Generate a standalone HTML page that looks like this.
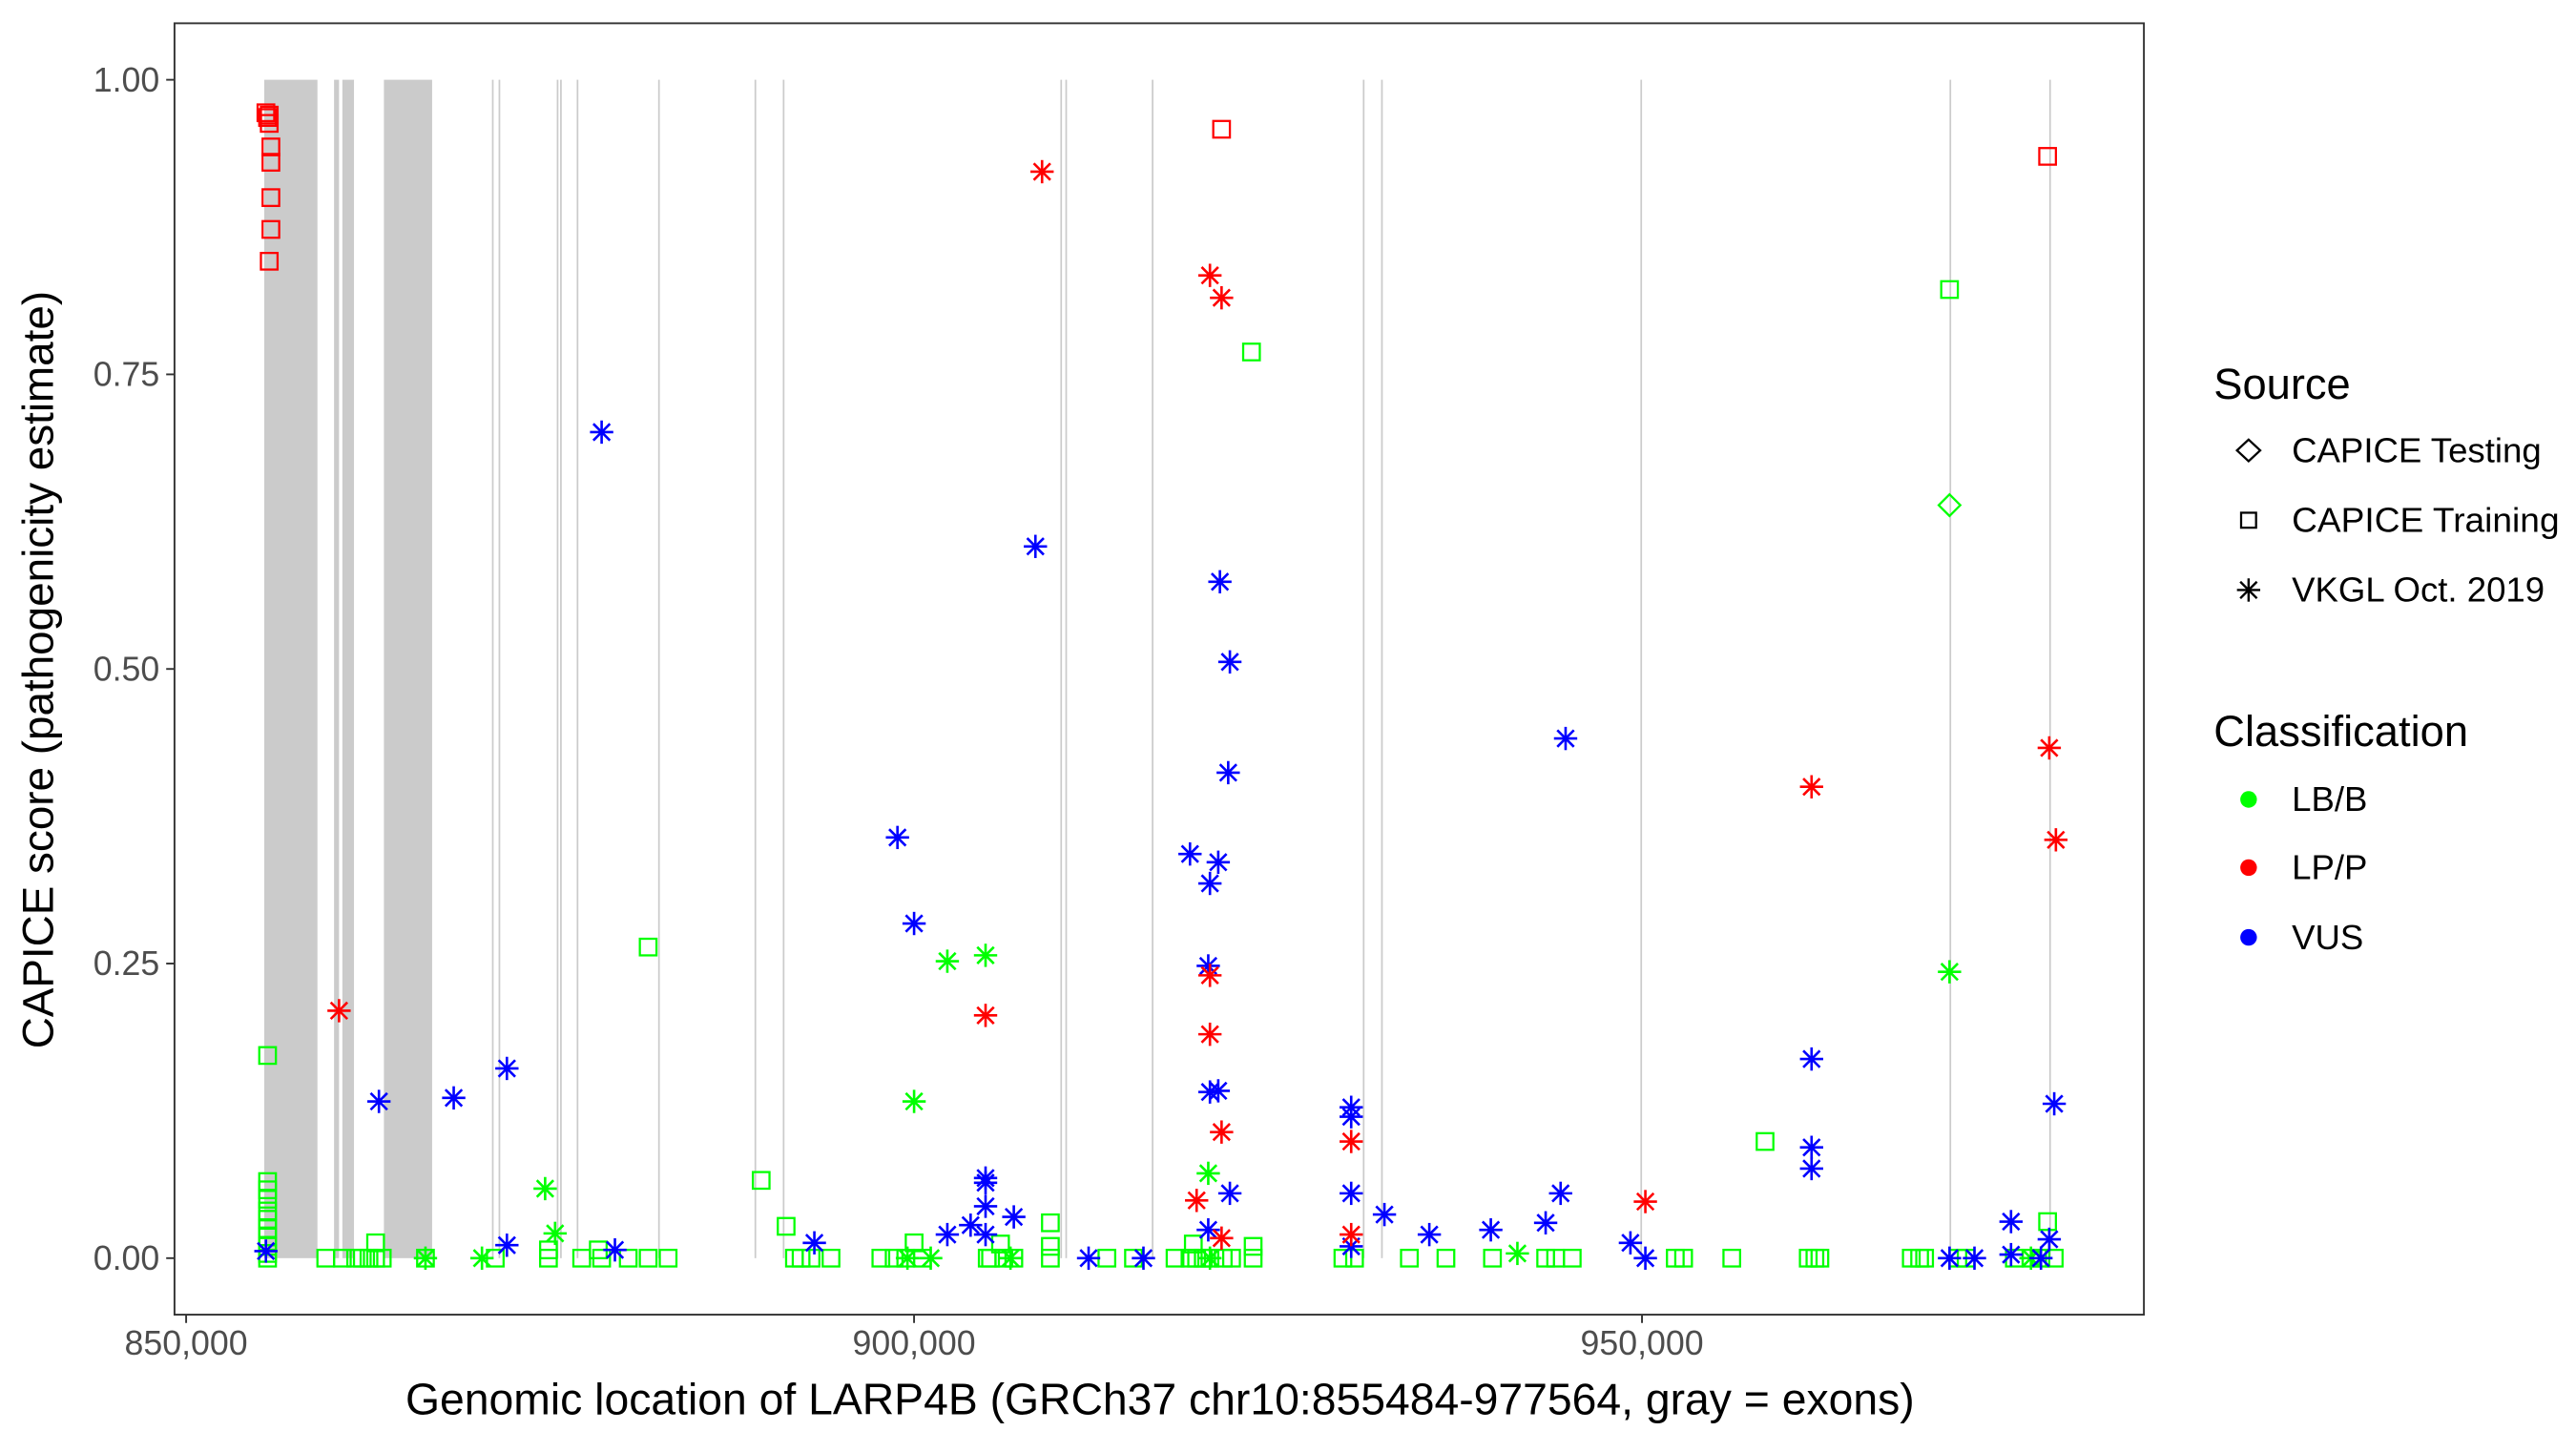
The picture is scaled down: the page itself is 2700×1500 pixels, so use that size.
<!DOCTYPE html>
<html><head><meta charset="utf-8"><style>html,body{margin:0;padding:0;background:#fff}svg{display:block}</style></head>
<body>
<svg id="chart" width="2700" height="1500" viewBox="0 0 1550 861" preserveAspectRatio="none" xmlns="http://www.w3.org/2000/svg" font-family="Liberation Sans, Arial, sans-serif">
<rect x="0" y="0" width="1550" height="861" fill="#fff"/>
<g id="exons"></g>
<g id="points"></g>
<rect x="105" y="14" width="1185" height="777" fill="none" stroke="#333" stroke-width="1.1"/>
<g id="axes"></g>
<text x="698" y="851" font-size="26.5" text-anchor="middle" fill="#000" textLength="908" lengthAdjust="spacingAndGlyphs">Genomic location of LARP4B (GRCh37 chr10:855484-977564, gray = exons)</text>
<text transform="translate(32,403) rotate(-90)" font-size="26" text-anchor="middle" fill="#000" textLength="456" lengthAdjust="spacingAndGlyphs">CAPICE score (pathogenicity estimate)</text>
<g>
<text x="1332" y="240" font-size="26" fill="#000">Source</text>
<polygon points="1346,271 1353,264.5 1360,271 1353,277.5" fill="none" stroke="#000" stroke-width="1.3"/>
<text x="1379" y="278" font-size="21">CAPICE Testing</text>
<rect x="1348.5" y="308.5" width="9" height="9" fill="none" stroke="#000" stroke-width="1.3"/>
<text x="1379" y="320" font-size="21" textLength="161" lengthAdjust="spacingAndGlyphs">CAPICE Training</text>
<g stroke="#000" stroke-width="1.4"><line x1="1346" y1="355" x2="1360" y2="355"/><line x1="1353" y1="348" x2="1353" y2="362"/><line x1="1348" y1="350" x2="1358" y2="360"/><line x1="1348" y1="360" x2="1358" y2="350"/></g>
<text x="1379" y="362" font-size="21">VKGL Oct. 2019</text>
<text x="1332" y="449" font-size="26" fill="#000">Classification</text>
<circle cx="1353" cy="481" r="5" fill="#00ff00"/>
<text x="1379" y="488" font-size="21">LB/B</text>
<circle cx="1353" cy="522" r="5" fill="#ff0000"/>
<text x="1379" y="529" font-size="21">LP/P</text>
<circle cx="1353" cy="564" r="5" fill="#0000ff"/>
<text x="1379" y="571" font-size="21">VUS</text>
</g>
</svg>
<script>
// exon regions (genomic start, end)
const exonStart=[855365,860160,860731,863585,871005,871461,875457,875686,876827,882421,889042,890983,910048,910391,916327,930825,932080,949890,971123,977973];
const exonEnd  =[859018,860502,861530,866896,871050,871506,875502,875731,876872,882466,889087,891028,910093,910436,916372,930870,932125,949935,971168,978018];
const xTicks=[850000,900000,950000];
const xTickLabels=["850,000","900,000","950,000"];
const yTicks=[0,0.25,0.5,0.75,1];
const yTickLabels=["0.00","0.25","0.50","0.75","1.00"];
// points: genomic position, score, class, source
const sqRedX=[855480,855594,855708,855708,855822,855822,855822,855822,855708,921122,977860];
const sqRedY=[0.972,0.968,0.97,0.963,0.943,0.93,0.90,0.873,0.846,0.958,0.935];
const stRedX=[860503,908792,920323,921122,904911,920323,920323,921122,919409,921122,930026,930026,950232,961648,977974,978430];
const stRedY=[0.21,0.922,0.834,0.815,0.206,0.24,0.19,0.107,0.049,0.017,0.099,0.02,0.048,0.4,0.433,0.355];
const sqGrnX=[855594,855594,855594,855594,855594,855594,855594,855594,855594,855594,881736,923177,889499,891212,958452,971124,977860,900002,909363,909363,905938,863014,874887,878312,919181,923291,
855594,859589,860731,861644,862101,862558,863014,863471,866439,871234,874887,877170,878540,880367,881736,883106,891783,892239,892924,894294,897719,898632,899431,900573,905025,905254,906167,906852,909363,913245,915071,917925,918953,919409,919866,920323,921236,921807,923291,929455,930254,934022,936533,939730,943383,944068,945209,952287,952858,956168,961420,961877,962219,968498,969069,969412,971695,972266,975577,976718,977403,978316];
const sqGrnY=[0.172,0.065,0.058,0.05,0.04,0.033,0.025,0.018,0.01,0.004,0.264,0.769,0.066,0.027,0.099,0.822,0.031,0.013,0.03,0.01,0.012,0.013,0.007,0.007,0.012,0.01,
0,0,0,0,0,0,0,0,0,0,0,0,0,0,0,0,0,0,0,0,0,0,0,0,0,0,0,0,0,0,0,0,0,0,0,0,0,0,0,0,0,0,0,0,0,0,0,0,0,0,0,0,0,0,0,0,0,0,0,0,0,0];
const stGrnX=[902285,904911,900002,874659,875343,920208,971124,866439,870320,899545,901144,906623,920323,941442,976718];
const stGrnY=[0.252,0.257,0.133,0.059,0.021,0.072,0.243,0,0,0,0,0,0,0.004,0];
const diaGrnX=[971124];
const diaGrnY=[0.639];
const stBluX=[878540,908336,921008,921693,921579,944753,898860,900002,918953,920894,920323,920208,863243,868380,872033,920323,920894,930026,930026,961648,978316,904911,904911,904911,904911,902285,903884,906852,921693,930026,932309,935392,939616,943383,944410,961648,961648,975348,977974,872033,879453,893152,855480,911989,915756,920208,930026,949205,950232,971124,972837,975348,977403];
const stBluY=[0.701,0.604,0.574,0.506,0.412,0.441,0.357,0.284,0.343,0.336,0.318,0.248,0.133,0.136,0.161,0.141,0.142,0.128,0.12,0.169,0.131,0.068,0.064,0.044,0.02,0.02,0.028,0.035,0.055,0.055,0.037,0.02,0.024,0.03,0.055,0.094,0.076,0.031,0.016,0.011,0.007,0.013,0.006,0,0,0.024,0.01,0.013,0,0,0,0.003,0];

const NS="http://www.w3.org/2000/svg";
const X0=850000, PX0=112, PXPER=438/50000;
const sx=g=>PX0+(g-X0)*PXPER;
const sy=v=>757-v*709;
function mk(tag,attrs,parent){const e=document.createElementNS(NS,tag);for(const k in attrs)e.setAttribute(k,attrs[k]);parent.appendChild(e);return e;}
const gEx=document.getElementById('exons');
for(let i=0;i<exonStart.length;i++){
  const w=Math.max(1,sx(exonEnd[i])-sx(exonStart[i]));
  const r=mk('rect',{x:sx(exonStart[i]),y:sy(1),width:w,height:sy(0)-sy(1),fill:'#cbcbcb'},gEx);
  
  
}
const gA=document.getElementById('axes');
for(let i=0;i<xTicks.length;i++){
  const x=sx(xTicks[i]);
  const t=mk('line',{x1:x,x2:x,y1:791,y2:796,stroke:'#333','stroke-width':1.1},gA);
  
  
  const l=mk('text',{x:x,y:815,'font-size':20.5,'text-anchor':'middle',fill:'#4d4d4d'},gA);
  l.textContent=xTickLabels[i];
  
  
}
for(let i=0;i<yTicks.length;i++){
  const y=sy(yTicks[i]);
  const t=mk('line',{x1:100,x2:105,y1:y,y2:y,stroke:'#333','stroke-width':1.1},gA);
  
  
  const l=mk('text',{x:96,y:y+7,'font-size':20.5,'text-anchor':'end',fill:'#4d4d4d'},gA);
  l.textContent=yTickLabels[i];
  
  
}
const gP=document.getElementById('points');
const COL={g:'#00ff00',r:'#ff0000',b:'#0000ff'};
function square(xs,ys,c,name){for(let i=0;i<xs.length;i++){const x=sx(xs[i]),y=sy(ys[i]);
  const e=mk('rect',{x:x-5,y:y-5,width:10,height:10,fill:'none',stroke:c,'stroke-width':1.3},gP);
  
  }}
function star(xs,ys,c,name){for(let i=0;i<xs.length;i++){const x=sx(xs[i]),y=sy(ys[i]);
  const g=mk('g',{stroke:c,'stroke-width':1.5},gP);
  
  
  mk('line',{x1:x-7,y1:y,x2:x+7,y2:y},g);mk('line',{x1:x,y1:y-7,x2:x,y2:y+7},g);
  mk('line',{x1:x-5,y1:y-5,x2:x+5,y2:y+5},g);mk('line',{x1:x-5,y1:y+5,x2:x+5,y2:y-5},g);}}
function diamond(xs,ys,c,name){for(let i=0;i<xs.length;i++){const x=sx(xs[i]),y=sy(ys[i]);
  const e=mk('polygon',{points:`${x-6.5},${y} ${x},${y-6.5} ${x+6.5},${y} ${x},${y+6.5}`,fill:'none',stroke:c,'stroke-width':1.3},gP);
  
  }}
square(sqGrnX,sqGrnY,COL.g,'lbb-training-point');
star(stGrnX,stGrnY,COL.g,'lbb-vkgl-point');
diamond(diaGrnX,diaGrnY,COL.g,'lbb-testing-point');
star(stBluX,stBluY,COL.b,'vus-vkgl-point');
square(sqRedX,sqRedY,COL.r,'lpp-training-point');
star(stRedX,stRedY,COL.r,'lpp-vkgl-point');
</script>
</body></html>
